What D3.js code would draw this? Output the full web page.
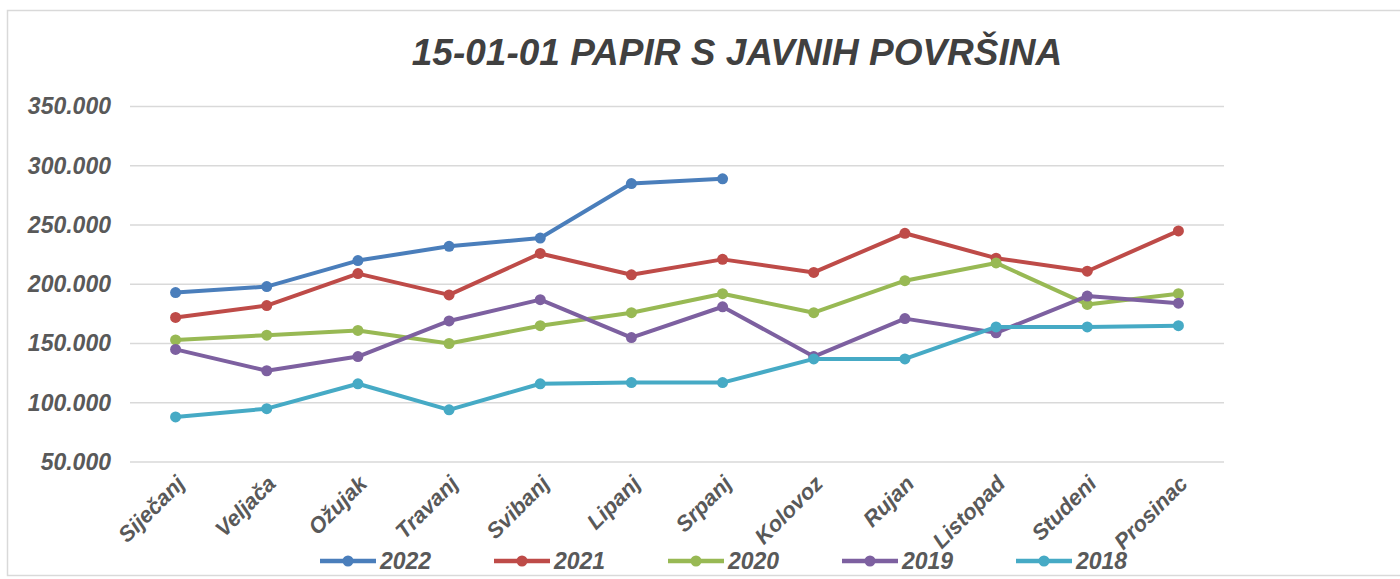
<!DOCTYPE html>
<html>
<head>
  <meta charset="utf-8">
  <title>15-01-01 PAPIR S JAVNIH POVRŠINA</title>
  <script src="https://d3js.org/d3.v7.min.js"></script>
  <style>
    body { margin: 0; background: #fff; font-family: "Liberation Sans", Arial, sans-serif; }
    .grid line { stroke: #d9d9d9; stroke-width: 1.5px; }
    .lbl { font-weight: bold; font-style: italic; fill: #595959; }
  </style>
</head>
<body>
  <svg width="1400" height="579"></svg>
  <script>
    // values
    const months = ["Siječanj", "Veljača", "Ožujak", "Travanj", "Svibanj", "Lipanj",
                    "Srpanj", "Kolovoz", "Rujan", "Listopad", "Studeni", "Prosinac"];
    const years = ["2022", "2021", "2020", "2019", "2018"];
    const v2022 = [193000, 198000, 220000, 232000, 239000, 285000, 289000];
    const v2021 = [172000, 182000, 209000, 191000, 226000, 208000, 221000, 210000, 243000, 222000, 211000, 245000];
    const v2020 = [153000, 157000, 161000, 150000, 165000, 176000, 192000, 176000, 203000, 218000, 183000, 192000];
    const v2019 = [145000, 127000, 139000, 169000, 187000, 155000, 181000, 139000, 171000, 159000, 190000, 184000];
    const v2018 = [88000, 95000, 116000, 94000, 116000, 117000, 117000, 137000, 137000, 164000, 164000, 165000];
    const yTicks = [50000, 100000, 150000, 200000, 250000, 300000, 350000];

    const seriesValues = [v2022, v2021, v2020, v2019, v2018];
    const colors = ["#4A7EBB", "#BE4B48", "#98B954", "#7D60A0", "#46AAC5"];

    const svg = d3.select("svg");

    // chart frame
    svg.append("rect")
      .attr("x", 7.5).attr("y", 10.5)
      .attr("width", 1400).attr("height", 565)
      .attr("fill", "#fff")
      .attr("stroke", "#d9d9d9")
      .attr("stroke-width", 1.5);

    const x = d3.scalePoint().domain(months).range([130, 1224]).padding(0.5);
    const y = d3.scaleLinear().domain([50000, 350000]).range([462, 106.5]);

    const loc = d3.formatLocale({ decimal: ",", thousands: ".", grouping: [3], currency: ["", ""] });
    const fmt = loc.format(",d");

    // gridlines
    svg.append("g").attr("class", "grid")
      .selectAll("line")
      .data(yTicks)
      .join("line")
      .attr("x1", 130).attr("x2", 1224)
      .attr("y1", d => y(d)).attr("y2", d => y(d));

    // y axis labels
    const yAxis = d3.axisLeft(y).tickValues(yTicks).tickFormat(fmt).tickSize(0).tickPadding(0);
    const yg = svg.append("g").attr("transform", "translate(111,0)").call(yAxis);
    yg.select(".domain").remove();
    yg.selectAll("text")
      .attr("class", "lbl")
      .style("font-size", "23px");

    // x axis labels, rotated
    const xAxis = d3.axisBottom(x).tickSize(0).tickPadding(0);
    const xg = svg.append("g").attr("transform", "translate(0,462)").call(xAxis);
    xg.select(".domain").remove();
    xg.selectAll("text")
      .attr("class", "lbl")
      .style("font-size", "22px")
      .attr("text-anchor", "end")
      .attr("y", 0).attr("dy", 0)
      .attr("transform", "translate(10,23) rotate(-45)");

    // title
    svg.append("text")
      .attr("x", 737).attr("y", 65)
      .attr("text-anchor", "middle")
      .style("font-size", "37px")
      .style("font-weight", "bold")
      .style("font-style", "italic")
      .style("fill", "#404040")
      .text("15-01-01 PAPIR S JAVNIH POVRŠINA");

    // series
    const line = d3.line().x((d, i) => x(months[i])).y(d => y(d));
    seriesValues.forEach((vals, k) => {
      const g = svg.append("g");
      g.append("path")
        .attr("d", line(vals))
        .attr("fill", "none")
        .attr("stroke", colors[k])
        .attr("stroke-width", 4)
        .attr("stroke-linejoin", "round");
      g.selectAll("circle")
        .data(vals)
        .join("circle")
        .attr("cx", (d, i) => x(months[i]))
        .attr("cy", d => y(d))
        .attr("r", 5.5)
        .attr("fill", colors[k]);
    });

    // legend
    const lg = svg.append("g").attr("transform", "translate(320,561)");
    const item = lg.selectAll("g")
      .data(years)
      .join("g")
      .attr("transform", (d, i) => `translate(${i * 174},0)`);
    item.append("line")
      .attr("x1", 0).attr("x2", 56)
      .attr("stroke", (d, i) => colors[i])
      .attr("stroke-width", 4.5);
    item.append("circle")
      .attr("cx", 28).attr("r", 5.5)
      .attr("fill", (d, i) => colors[i]);
    item.append("text")
      .attr("class", "lbl")
      .attr("x", 60).attr("dy", "0.36em")
      .style("font-size", "23px")
      .text(d => d);
  </script>
</body>
</html>
